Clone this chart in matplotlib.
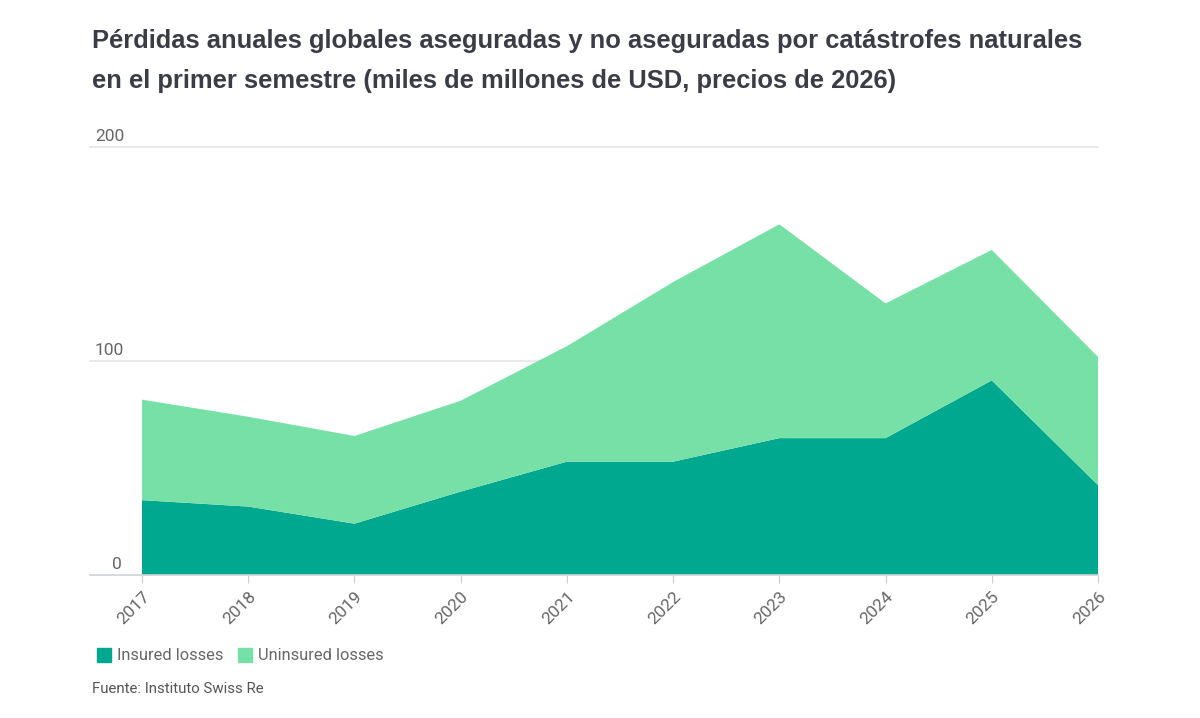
import matplotlib.pyplot as plt
import matplotlib.transforms as mtransforms
from matplotlib.patches import Rectangle

# data (USD bn, 2026 prices)
years = [2017, 2018, 2019, 2020, 2021, 2022, 2023, 2024, 2025, 2026]
insured = [35, 32, 24, 39, 53, 53, 64, 64, 91, 42]
uninsured = [47, 42, 41, 42.5, 54, 84, 100, 63, 61, 60]
y_ticks = [0, 100, 200]

title_l1 = 'Pérdidas anuales globales aseguradas y no aseguradas por catástrofes naturales'
title_l2 = 'en el primer semestre (miles de millones de USD, precios de 2026)'
source = 'Fuente: Instituto Swiss Re'

c_ins = '#00a88f'
c_unins = '#76e0a6'
c_lab = '#666666'

fig = plt.figure(figsize=(12, 7.18), dpi=100)
ax = fig.add_axes([142/1200, 1 - 575/718, 956/1200, (575 - 147.3)/718])

ax.stackplot(years, insured, uninsured, colors=[c_ins, c_unins], linewidth=0)
ax.set_xlim(years[0], years[-1])
ax.set_ylim(0, 200)

for s in ax.spines.values():
    s.set_visible(False)
ax.set_yticks([])

# gridlines reaching left past the plot, labels sitting on top of them
trans = mtransforms.blended_transform_factory(ax.transAxes, ax.transData)
x0 = (90 - 142) / 956
for v in y_ticks:
    col = '#cfd3d6' if v == 0 else '#e6e6e6'
    ax.plot([x0, 1], [v, v], color=col, lw=1.2, transform=trans, clip_on=False, zorder=0 if v else 3)
    ax.text((95 - 142) / 956 if v else (112 - 142) / 956, v + 1.5, str(v), transform=trans,
            fontsize=12.5, color=c_lab, family='Roboto', fontweight='normal',
            ha='left', va='bottom')

ax.set_xticks(years)
ax.set_xticklabels([str(y) for y in years], rotation=45, ha='right', rotation_mode='anchor',
                   fontsize=12.5, color=c_lab, family='Roboto', fontweight='normal')
ax.tick_params(axis='x', length=6, width=0.8, color='#cccccc', pad=4)

# title
fig.text(92/1200, 1 - 48/718, title_l1, fontsize=18.4, fontweight='bold', color='#3a3d48',
         family='Liberation Sans', ha='left', va='baseline')
fig.text(92/1200, 1 - 88/718, title_l2, fontsize=18.4, fontweight='bold', color='#3a3d48',
         family='Liberation Sans', ha='left', va='baseline')

# legend
for x, lab, col in [(97, 'Insured losses', c_ins), (238, 'Uninsured losses', c_unins)]:
    fig.patches.append(Rectangle((x/1200, 1 - 662/718), 14/1200, 14/718, color=col,
                                 transform=fig.transFigure))
    fig.text((x + 20)/1200, 1 - 655/718, lab, fontsize=11.8, color=c_lab,
             family='Roboto', fontweight='normal', ha='left', va='center')

fig.text(92/1200, 1 - 689/718, source, fontsize=10.8, color='#555555',
         family='Roboto', fontweight='normal', ha='left', va='center')

fig.savefig('out.png', dpi=100)
